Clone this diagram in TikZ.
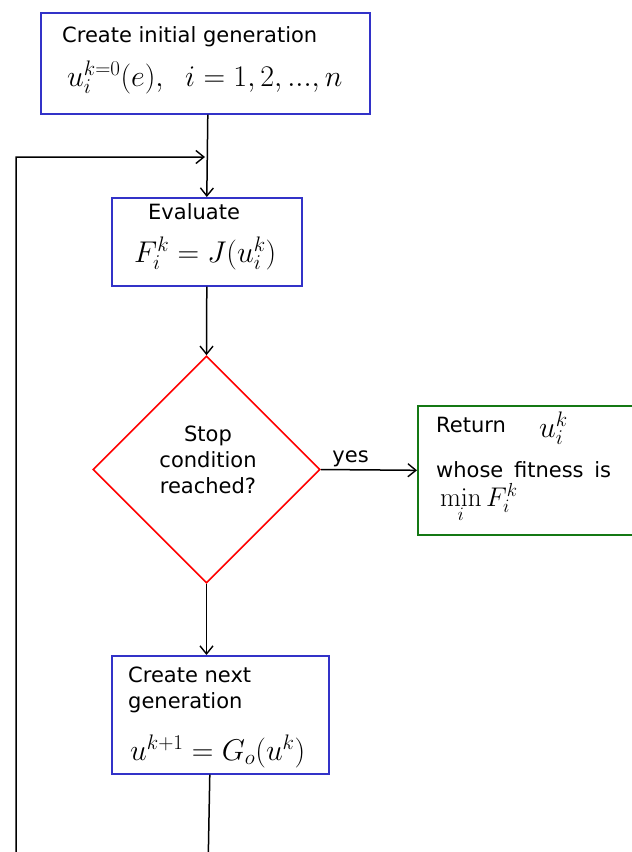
\RequirePackage{fix-cm}
\documentclass[tikz,border=0pt]{standalone}
\usepackage[no-math]{fontspec}
\setmainfont{DejaVu Sans}
\usetikzlibrary{arrows.meta,shapes.geometric,calc}
\definecolor{boxblue}{RGB}{50,50,200}
\definecolor{boxgreen}{RGB}{20,120,20}
\definecolor{diared}{RGB}{255,0,0}

\begin{document}
\begin{tikzpicture}[x=1pt,y=-1pt,
  box/.style={draw=boxblue,line width=1.6pt,rectangle,inner sep=0pt,anchor=north west},
  endbox/.style={box,draw=boxgreen},
  decision/.style={draw=diared,line width=1.6pt,diamond,aspect=1,inner sep=0pt,
    minimum width=227pt,minimum height=227pt},
  txt/.style={font=\fontsize{21}{26}\selectfont,inner sep=0pt},
  mth/.style={font=\fontsize{30}{34}\selectfont,inner sep=0pt},
  smth/.style={font=\fontsize{27}{31}\selectfont,inner sep=0pt},
  link/.style={line width=1.5pt,draw=black},
  arr/.style={link,-{Straight Barb[length=8pt,width=13pt,line width=1.4pt]}}
]
\clip (0,0) rectangle (632,852);

% boxes
\node[box,minimum width=329pt,minimum height=101pt] (init) at (40,12) {};
\node[box,minimum width=190pt,minimum height=88pt] (eval) at (111,197) {};
\node[decision] (dia) at (206.5,469.5) {};
\node[endbox,minimum width=270pt,minimum height=129pt] (ret) at (417,405) {};
\node[box,minimum width=217pt,minimum height=118pt] (gen) at (111,655) {};

% texts
\node[txt,anchor=base west] (initT) at (62,42) {Create initial generation};
\node[mth,anchor=base west] (initM) at (67,86) {$u_i^{k=0}(e),\;\;i=1,2,...,n$};

\node[txt,anchor=base west] (evalT) at (148,219) {Evaluate};
\node[mth,anchor=base west] (evalM) at (134,262) {$F_i^k=J(u_i^k)$};

\node[txt,align=center] (diaT) at (208,460) {Stop\\condition\\reached?};

\node[txt,anchor=base west] (retT1) at (436,432) {Return};
\node[mth,anchor=base west] (retM1) at (539,437) {$u_i^k$};
\node[txt,anchor=base west] (retT2) at (436,477) {whose\hspace{4pt} fitness\hspace{4pt} is};
\node[smth,anchor=base west] (retM2) at (440,506) {$\min\limits_i F_i^k$};

\node[txt,anchor=base west] (genT1) at (128,682) {Create next};
\node[txt,anchor=base west] (genT2) at (128,708) {generation};
\node[mth,anchor=base west] (genM) at (130,760) {$u^{k+1}=G_o(u^k)$};

% connectors
\coordinate (join) at (205,157);
\coordinate (loopbl) at (16,880);
\draw[arr] ([xshift=2.5pt]init.south) -- (eval.north);
\draw[arr] (eval.south) -- (dia.north);
\draw[arr] (dia.east) -- node[txt,pos=0.31,anchor=base,yshift=7pt] (yes) {yes} (ret.west);
\draw[arr] (dia.south) -- (dia.south |- gen.north);
\draw[arr] ([xshift=-10.5pt]gen.south) -- ++(-2,107) -- (loopbl) |- (join);
\end{tikzpicture}
\end{document}
